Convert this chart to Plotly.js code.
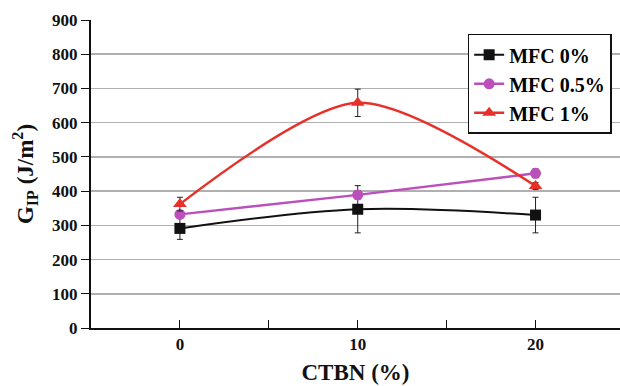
<!DOCTYPE html>
<html><head><meta charset="utf-8">
<script src="https://cdn.plot.ly/plotly-3.0.1.min.js"></script>
<style>body{margin:0;background:#fff}#c{width:620px;height:386px}</style>
</head><body><div id="c"></div>
<script>
const ctbn = [0, 10, 20];
const xTicks = ['0', '10', '20'];
const yTicks = [0, 100, 200, 300, 400, 500, 600, 700, 800, 900];
const mfc0 = [291, 347, 330];
const mfc0Err = [32, 69, 52];
const mfc05 = [332, 389, 452];
const mfc05Err = [8, 12, 13];
const mfc1 = [362, 658, 415];
const mfc1Err = [20, 40, 10];
const names = ['MFC 0%', 'MFC 0.5%', 'MFC 1%'];

const font = 'Liberation Serif, Times New Roman, serif';
function tr(y, err, name, color, sym, size, shape, lw, sm) {
  return {x: ctbn, y: y, name: '<b>' + name + '</b>', type: 'scatter', mode: 'lines+markers',
    line: {color: color, width: lw, shape: shape, smoothing: sm},
    marker: {color: color, symbol: sym, size: size},
    error_y: {type: 'data', array: err, visible: true, color: '#222', thickness: 1, width: 3}};
}
const data = [
  tr(mfc0, mfc0Err, names[0], '#111111', 'square', 11, 'spline', 2, 1),
  tr(mfc05, mfc05Err, names[1], '#bb4fbb', 'circle', 11, 'linear', 2.5, 1),
  tr(mfc1, mfc1Err, names[2], '#e8302a', 'triangle-up', 12, 'spline', 2.5, 0.8)
];
const layout = {
  width: 620, height: 386,
  margin: {l: 91, r: 0, t: 20, b: 58},
  paper_bgcolor: '#fff', plot_bgcolor: '#fff',
  font: {family: font, color: '#111', size: 16},
  showlegend: true,
  legend: {x: 0.712, y: 0.955, xanchor: 'left', yanchor: 'top',
    bordercolor: '#111', borderwidth: 1.5, bgcolor: '#fff',
    font: {family: font, size: 20, color: '#000', weight: 'bold'},
    tracegroupgap: 0, itemwidth: 30},
  xaxis: {range: [-5, 24.75], tickvals: ctbn, ticktext: xTicks.map(t => '<b>' + t + '</b>'),
    ticks: 'inside', ticklen: 8, tickcolor: '#111', tickwidth: 1,
    minor: {tickvals: [5, 15], ticks: 'inside', ticklen: 8, tickcolor: '#111', tickwidth: 1},
    showgrid: false, zeroline: false, showline: true, linecolor: '#111', linewidth: 2,
    tickfont: {family: font, size: 17},
    title: {text: '<b>CTBN (%)</b>', font: {family: font, size: 23}, standoff: 10}},
  yaxis: {range: [0, 900], tickvals: yTicks, ticktext: yTicks.map(t => '<b>' + t + '</b>'),
    ticks: 'outside', ticklen: 8, tickcolor: '#111', tickwidth: 1,
    showgrid: true, gridcolor: '#b0b0b0', gridwidth: 1.5,
    zeroline: false, showline: true, linecolor: '#111', linewidth: 2,
    tickfont: {family: font, size: 17},
    title: {text: '<b>G<sub>IP</sub> (J/m<sup>2</sup>)</b>', font: {family: font, size: 23}, standoff: 12}}
};
Plotly.newPlot('c', data, layout, {displayModeBar: false, staticPlot: true});
</script></body></html>
